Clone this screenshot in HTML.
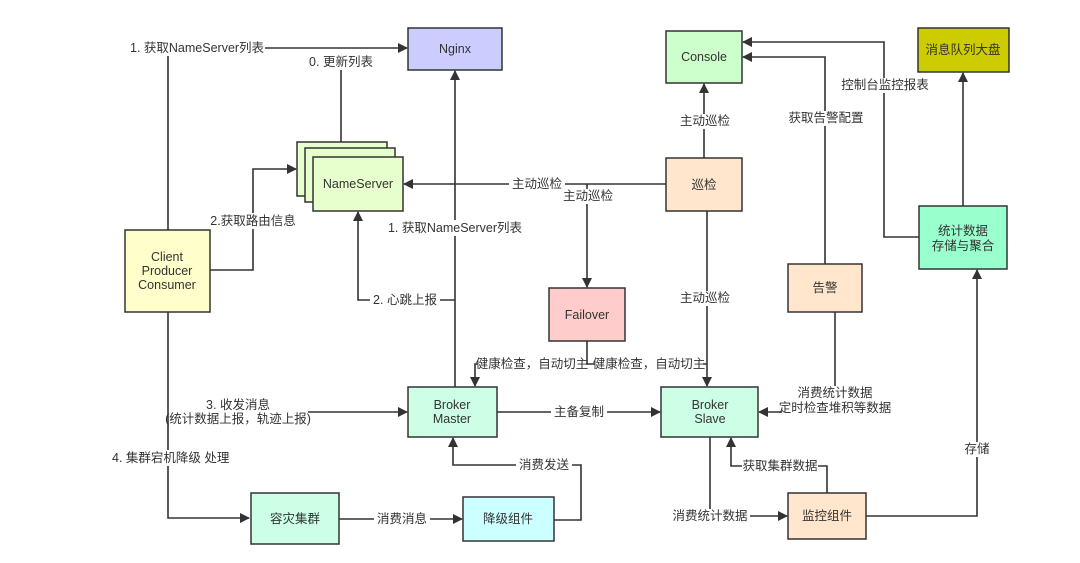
<!DOCTYPE html>
<html><head><meta charset="utf-8"><style>
body{margin:0;background:#fff;}
svg{display:block;}
text{font-family:"Liberation Sans","Noto Sans CJK SC",sans-serif;font-size:12.5px;fill:#333;}
.l{stroke:#333;stroke-width:1.6;fill:none;}
.b{stroke:#333;stroke-width:1.5;}
.bg{fill:#fff;}
</style></head><body>
<svg width="1080" height="563" viewBox="0 0 1080 563" xmlns="http://www.w3.org/2000/svg">
<defs><marker id="a" markerWidth="10" markerHeight="10" refX="9" refY="5" orient="auto" markerUnits="userSpaceOnUse"><path d="M0,0 L10,5 L0,10 z" fill="#333"/></marker></defs>

<!-- connectors -->
<path class="l" d="M168,55 V518 H249" marker-end="url(#a)"/>
<path class="l" d="M265,48 H407" marker-end="url(#a)"/>
<path class="l" d="M341,70 V142"/>
<path class="l" d="M210,270 H253 V169 H296" marker-end="url(#a)"/>
<path class="l" d="M455,387 V71" marker-end="url(#a)"/>
<path class="l" d="M455,300 H358 V212" marker-end="url(#a)"/>
<path class="l" d="M666,184 H404" marker-end="url(#a)"/>
<path class="l" d="M587,184 V287" marker-end="url(#a)"/>
<path class="l" d="M704,158 V84" marker-end="url(#a)"/>
<path class="l" d="M707,211 V386" marker-end="url(#a)"/>
<path class="l" d="M587,341 V364 H475 V386" marker-end="url(#a)"/>
<path class="l" d="M587,364 H707"/>
<path class="l" d="M919,237 H884 V42 H743" marker-end="url(#a)"/>
<path class="l" d="M825,264 V57 H743" marker-end="url(#a)"/>
<path class="l" d="M963,206 V73" marker-end="url(#a)"/>
<path class="l" d="M308,412 H407" marker-end="url(#a)"/>
<path class="l" d="M497,412 H660" marker-end="url(#a)"/>
<path class="l" d="M339,519 H462" marker-end="url(#a)"/>
<path class="l" d="M554,520 H581 V465 H453 V438" marker-end="url(#a)"/>
<path class="l" d="M835,312 V412 H759" marker-end="url(#a)"/>
<path class="l" d="M710,437 V516 H787" marker-end="url(#a)"/>
<path class="l" d="M827,493 V466 H731 V438" marker-end="url(#a)"/>
<path class="l" d="M866,516 H977 V270" marker-end="url(#a)"/>

<!-- nodes -->
<rect class="b" x="408" y="28" width="94" height="42" fill="#ccccff"/>
<text x="455" y="53" text-anchor="middle">Nginx</text>
<rect class="b" x="297" y="142" width="90" height="54" fill="#e6ffcc"/>
<rect class="b" x="305" y="148" width="90" height="54" fill="#e6ffcc"/>
<rect class="b" x="313" y="157" width="90" height="54" fill="#e6ffcc"/>
<text x="358" y="188" text-anchor="middle">NameServer</text>
<rect class="b" x="125" y="230" width="85" height="82" fill="#ffffcc"/>
<text x="167" y="261" text-anchor="middle">Client</text>
<text x="167" y="275" text-anchor="middle">Producer</text>
<text x="167" y="289" text-anchor="middle">Consumer</text>
<rect class="b" x="666" y="31" width="76" height="52" fill="#ccffcc"/>
<text x="704" y="61" text-anchor="middle">Console</text>
<rect class="b" x="918" y="28" width="91" height="44" fill="#cccc00"/>
<text x="963" y="54" text-anchor="middle">消息队列大盘</text>
<rect class="b" x="666" y="158" width="76" height="53" fill="#ffe6cc"/>
<text x="704" y="189" text-anchor="middle">巡检</text>
<rect class="b" x="549" y="288" width="76" height="53" fill="#ffcccc"/>
<text x="587" y="319" text-anchor="middle">Failover</text>
<rect class="b" x="788" y="264" width="74" height="48" fill="#ffe6cc"/>
<text x="825" y="292" text-anchor="middle">告警</text>
<rect class="b" x="919" y="206" width="88" height="63" fill="#99ffcc"/>
<text x="963" y="235" text-anchor="middle">统计数据</text>
<text x="963" y="250" text-anchor="middle">存储与聚合</text>
<rect class="b" x="408" y="387" width="89" height="50" fill="#ccffe6"/>
<text x="452" y="409" text-anchor="middle">Broker</text>
<text x="452" y="423" text-anchor="middle">Master</text>
<rect class="b" x="661" y="387" width="97" height="50" fill="#ccffe6"/>
<text x="710" y="409" text-anchor="middle">Broker</text>
<text x="710" y="423" text-anchor="middle">Slave</text>
<rect class="b" x="251" y="493" width="88" height="51" fill="#ccffe6"/>
<text x="295" y="523" text-anchor="middle">容灾集群</text>
<rect class="b" x="463" y="497" width="91" height="44" fill="#ccffff"/>
<text x="508" y="523" text-anchor="middle">降级组件</text>
<rect class="b" x="788" y="493" width="78" height="46" fill="#ffe6cc"/>
<text x="827" y="520" text-anchor="middle">监控组件</text>

<!-- labels -->
<rect class="bg" x="128" y="40" width="137" height="16"/>
<text x="130" y="52">1. 获取NameServer列表</text>
<rect class="bg" x="306" y="55" width="70" height="15"/>
<text x="341" y="66" text-anchor="middle">0. 更新列表</text>
<rect class="bg" x="210" y="213" width="88" height="16"/>
<text x="253" y="225" text-anchor="middle">2.获取路由信息</text>
<rect class="bg" x="384" y="220" width="142" height="16"/>
<text x="455" y="232" text-anchor="middle">1. 获取NameServer列表</text>
<rect class="bg" x="370" y="292" width="70" height="16"/>
<text x="405" y="304" text-anchor="middle">2. 心跳上报</text>
<rect class="bg" x="509" y="177" width="56" height="15"/>
<text x="537" y="188" text-anchor="middle">主动巡检</text>
<rect class="bg" x="560" y="189" width="56" height="15"/>
<text x="588" y="200" text-anchor="middle">主动巡检</text>
<rect class="bg" x="678" y="114" width="54" height="15"/>
<text x="705" y="125" text-anchor="middle">主动巡检</text>
<rect class="bg" x="678" y="291" width="54" height="15"/>
<text x="705" y="302" text-anchor="middle">主动巡检</text>
<rect class="bg" x="478" y="357" width="108" height="15"/>
<text x="532" y="368" text-anchor="middle">健康检查，自动切主</text>
<rect class="bg" x="595" y="357" width="108" height="15"/>
<text x="649" y="368" text-anchor="middle">健康检查，自动切主</text>
<rect class="bg" x="842" y="78" width="86" height="15"/>
<text x="885" y="89" text-anchor="middle">控制台监控报表</text>
<rect class="bg" x="788" y="111" width="76" height="15"/>
<text x="826" y="122" text-anchor="middle">获取告警配置</text>
<text x="238" y="409" text-anchor="middle">3. 收发消息</text>
<text x="238" y="423" text-anchor="middle">(统计数据上报，轨迹上报)</text>
<rect class="bg" x="110" y="450" width="120" height="16"/>
<text x="112" y="462">4. 集群宕机降级 处理</text>
<rect class="bg" x="551" y="405" width="56" height="15"/>
<text x="579" y="416" text-anchor="middle">主备复制</text>
<rect class="bg" x="374" y="512" width="56" height="15"/>
<text x="402" y="523" text-anchor="middle">消费消息</text>
<rect class="bg" x="516" y="458" width="56" height="15"/>
<text x="544" y="469" text-anchor="middle">消费发送</text>
<rect class="bg" x="782" y="386" width="106" height="30"/>
<text x="835" y="397" text-anchor="middle">消费统计数据</text>
<text x="835" y="412" text-anchor="middle">定时检查堆积等数据</text>
<rect class="bg" x="672" y="509" width="78" height="15"/>
<text x="710" y="520" text-anchor="middle">消费统计数据</text>
<rect class="bg" x="742" y="459" width="76" height="15"/>
<text x="780" y="470" text-anchor="middle">获取集群数据</text>
<rect class="bg" x="963" y="442" width="28" height="15"/>
<text x="977" y="453" text-anchor="middle">存储</text>
</svg>
</body></html>
